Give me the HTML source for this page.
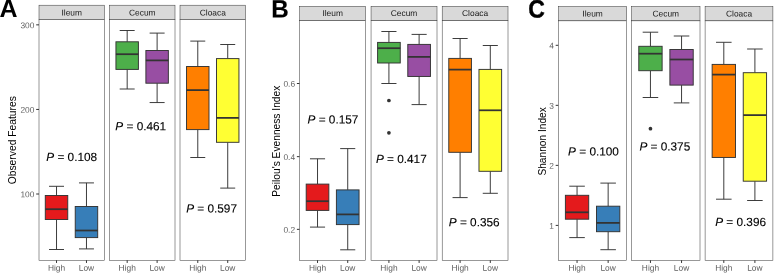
<!DOCTYPE html>
<html lang="en"><head><meta charset="utf-8"><title>Alpha diversity boxplots</title>
<style>html,body{margin:0;padding:0;background:#fff;}body{width:774px;height:273px;overflow:hidden;}svg{display:block;}text{font-family:'Liberation Sans', sans-serif;}</style></head><body>
<svg width="774" height="273" viewBox="0 0 774 273">
<rect x="0" y="0" width="774" height="273" fill="#ffffff"/>
<g>
<text transform="translate(-0.5,17.1) rotate(0.03) scale(1,1)" font-size="25.0" font-weight="bold" fill="#000" stroke="#000" stroke-width="0">A</text>
<text transform="translate(16.2,140.2) rotate(-90)" text-anchor="middle" font-size="10.3" fill="#000">Observed Features</text>
<line x1="36.2" x2="39" y1="24.85" y2="24.85" stroke="#333333" stroke-width="1.0"/>
<text transform="translate(34.4,28.15) rotate(0.03)" text-anchor="end" font-size="8.4" fill="#5e5e5e">300</text>
<line x1="36.2" x2="39" y1="109.45" y2="109.45" stroke="#333333" stroke-width="1.0"/>
<text transform="translate(34.4,112.75) rotate(0.03)" text-anchor="end" font-size="8.4" fill="#5e5e5e">200</text>
<line x1="36.2" x2="39" y1="194" y2="194" stroke="#333333" stroke-width="1.0"/>
<text transform="translate(34.4,197.3) rotate(0.03)" text-anchor="end" font-size="8.4" fill="#5e5e5e">100</text>
<rect x="39" y="5.2" width="65.4" height="14.4" fill="#D9D9D9" stroke="#333333" stroke-width="0.5"/>
<text transform="translate(71.7,15.4) rotate(0.03)" text-anchor="middle" font-size="8.4" fill="#1A1A1A">Ileum</text>
<rect x="39" y="19.6" width="65.4" height="240.65" fill="#fff" stroke="#333333" stroke-width="0.5"/>
<path d="M49.04 186.3H64.01M49.04 249.5H64.01M56.52 186.3V195.5M56.52 219.5V249.5" stroke="#333333" stroke-width="0.95" fill="none"/>
<rect x="45.29" y="195.5" width="22.46" height="24" fill="#E41A1C" stroke="#333333" stroke-width="0.95"/>
<line x1="45.29" x2="67.76" y1="209.2" y2="209.2" stroke="#333333" stroke-width="1.75"/>
<path d="M78.99 182.9H93.96M78.99 248.9H93.96M86.47 182.9V206.5M86.47 237.6V248.9" stroke="#333333" stroke-width="0.95" fill="none"/>
<rect x="75.24" y="206.5" width="22.46" height="31.1" fill="#377EB8" stroke="#333333" stroke-width="0.95"/>
<line x1="75.24" x2="97.71" y1="230.5" y2="230.5" stroke="#333333" stroke-width="1.75"/>
<text transform="translate(71.7,161) rotate(0.03)" text-anchor="middle" font-size="11.8" fill="#000" stroke="#000" stroke-width="0.12"><tspan font-style="italic">P</tspan> = 0.108</text>
<line x1="56.52" x2="56.52" y1="260.25" y2="262.95" stroke="#333333" stroke-width="1.0"/>
<text transform="translate(56.52,270.8) rotate(0.03)" text-anchor="middle" font-size="8.4" fill="#5e5e5e">High</text>
<line x1="86.47" x2="86.47" y1="260.25" y2="262.95" stroke="#333333" stroke-width="1.0"/>
<text transform="translate(86.47,270.8) rotate(0.03)" text-anchor="middle" font-size="8.4" fill="#5e5e5e">Low</text>
<rect x="109.5" y="5.2" width="65.5" height="14.4" fill="#D9D9D9" stroke="#333333" stroke-width="0.5"/>
<text transform="translate(142.25,15.4) rotate(0.03)" text-anchor="middle" font-size="8.4" fill="#1A1A1A">Cecum</text>
<rect x="109.5" y="19.6" width="65.5" height="240.65" fill="#fff" stroke="#333333" stroke-width="0.5"/>
<path d="M119.69 30.5H134.66M119.69 89H134.66M127.18 30.5V41.8M127.18 69.4V89" stroke="#333333" stroke-width="0.95" fill="none"/>
<rect x="115.94" y="41.8" width="22.46" height="27.6" fill="#4DAF4A" stroke="#333333" stroke-width="0.95"/>
<line x1="115.94" x2="138.41" y1="54.2" y2="54.2" stroke="#333333" stroke-width="1.75"/>
<path d="M149.64 33.1H164.61M149.64 102.55H164.61M157.12 33.1V50.5M157.12 83.2V102.55" stroke="#333333" stroke-width="0.95" fill="none"/>
<rect x="145.89" y="50.5" width="22.46" height="32.7" fill="#984EA3" stroke="#333333" stroke-width="0.95"/>
<line x1="145.89" x2="168.36" y1="60.4" y2="60.4" stroke="#333333" stroke-width="1.75"/>
<text transform="translate(140.75,130.2) rotate(0.03)" text-anchor="middle" font-size="11.8" fill="#000" stroke="#000" stroke-width="0.12"><tspan font-style="italic">P</tspan> = 0.461</text>
<line x1="127.18" x2="127.18" y1="260.25" y2="262.95" stroke="#333333" stroke-width="1.0"/>
<text transform="translate(127.18,270.8) rotate(0.03)" text-anchor="middle" font-size="8.4" fill="#5e5e5e">High</text>
<line x1="157.12" x2="157.12" y1="260.25" y2="262.95" stroke="#333333" stroke-width="1.0"/>
<text transform="translate(157.12,270.8) rotate(0.03)" text-anchor="middle" font-size="8.4" fill="#5e5e5e">Low</text>
<rect x="180" y="5.2" width="65.5" height="14.4" fill="#D9D9D9" stroke="#333333" stroke-width="0.5"/>
<text transform="translate(212.75,15.4) rotate(0.03)" text-anchor="middle" font-size="8.4" fill="#1A1A1A">Cloaca</text>
<rect x="180" y="19.6" width="65.5" height="240.65" fill="#fff" stroke="#333333" stroke-width="0.5"/>
<path d="M190.29 41.1H205.26M190.29 157.5H205.26M197.78 41.1V66.5M197.78 129.6V157.5" stroke="#333333" stroke-width="0.95" fill="none"/>
<rect x="186.54" y="66.5" width="22.46" height="63.1" fill="#FF7F00" stroke="#333333" stroke-width="0.95"/>
<line x1="186.54" x2="209.01" y1="90.1" y2="90.1" stroke="#333333" stroke-width="1.75"/>
<path d="M220.24 44.5H235.21M220.24 188.1H235.21M227.72 44.5V58.6M227.72 142.3V188.1" stroke="#333333" stroke-width="0.95" fill="none"/>
<rect x="216.49" y="58.6" width="22.46" height="83.7" fill="#FFFF33" stroke="#333333" stroke-width="0.95"/>
<line x1="216.49" x2="238.96" y1="117.9" y2="117.9" stroke="#333333" stroke-width="1.75"/>
<text transform="translate(211.55,212.5) rotate(0.03)" text-anchor="middle" font-size="11.8" fill="#000" stroke="#000" stroke-width="0.12"><tspan font-style="italic">P</tspan> = 0.597</text>
<line x1="197.78" x2="197.78" y1="260.25" y2="262.95" stroke="#333333" stroke-width="1.0"/>
<text transform="translate(197.78,270.8) rotate(0.03)" text-anchor="middle" font-size="8.4" fill="#5e5e5e">High</text>
<line x1="227.72" x2="227.72" y1="260.25" y2="262.95" stroke="#333333" stroke-width="1.0"/>
<text transform="translate(227.72,270.8) rotate(0.03)" text-anchor="middle" font-size="8.4" fill="#5e5e5e">Low</text>
</g>
<g>
<text transform="translate(271.2,17.4) rotate(0.03) scale(0.97,1)" font-size="25.0" font-weight="bold" fill="#000" stroke="#000" stroke-width="0.15">B</text>
<text transform="translate(279.8,141.2) rotate(-90)" text-anchor="middle" font-size="10.23" fill="#000">Peilou&#39;s Evenness Index</text>
<line x1="296.9" x2="299.7" y1="83.5" y2="83.5" stroke="#333333" stroke-width="1.0"/>
<text transform="translate(295.1,86.8) rotate(0.03)" text-anchor="end" font-size="8.4" fill="#5e5e5e">0.6</text>
<line x1="296.9" x2="299.7" y1="156.65" y2="156.65" stroke="#333333" stroke-width="1.0"/>
<text transform="translate(295.1,159.95) rotate(0.03)" text-anchor="end" font-size="8.4" fill="#5e5e5e">0.4</text>
<line x1="296.9" x2="299.7" y1="229.35" y2="229.35" stroke="#333333" stroke-width="1.0"/>
<text transform="translate(295.1,232.65) rotate(0.03)" text-anchor="end" font-size="8.4" fill="#5e5e5e">0.2</text>
<rect x="299.7" y="6.3" width="65.85" height="14.4" fill="#D9D9D9" stroke="#333333" stroke-width="0.5"/>
<text transform="translate(332.62,16) rotate(0.03)" text-anchor="middle" font-size="8.4" fill="#1A1A1A">Ileum</text>
<rect x="299.7" y="20.7" width="65.85" height="239.55" fill="#fff" stroke="#333333" stroke-width="0.5"/>
<path d="M309.97 158.8H325.07M309.97 227.1H325.07M317.52 158.8V184.1M317.52 210.4V227.1" stroke="#333333" stroke-width="0.95" fill="none"/>
<rect x="306.2" y="184.1" width="22.65" height="26.3" fill="#E41A1C" stroke="#333333" stroke-width="0.95"/>
<line x1="306.2" x2="328.85" y1="201.2" y2="201.2" stroke="#333333" stroke-width="1.75"/>
<path d="M340.18 148.6H355.28M340.18 249.8H355.28M347.73 148.6V189.9M347.73 224.6V249.8" stroke="#333333" stroke-width="0.95" fill="none"/>
<rect x="336.4" y="189.9" width="22.65" height="34.7" fill="#377EB8" stroke="#333333" stroke-width="0.95"/>
<line x1="336.4" x2="359.05" y1="214.4" y2="214.4" stroke="#333333" stroke-width="1.75"/>
<text transform="translate(332.93,123.6) rotate(0.03)" text-anchor="middle" font-size="11.8" fill="#000" stroke="#000" stroke-width="0.12"><tspan font-style="italic">P</tspan> = 0.157</text>
<line x1="317.52" x2="317.52" y1="260.25" y2="262.95" stroke="#333333" stroke-width="1.0"/>
<text transform="translate(317.52,270.8) rotate(0.03)" text-anchor="middle" font-size="8.4" fill="#5e5e5e">High</text>
<line x1="347.73" x2="347.73" y1="260.25" y2="262.95" stroke="#333333" stroke-width="1.0"/>
<text transform="translate(347.73,270.8) rotate(0.03)" text-anchor="middle" font-size="8.4" fill="#5e5e5e">Low</text>
<rect x="371.05" y="6.3" width="65.95" height="14.4" fill="#D9D9D9" stroke="#333333" stroke-width="0.5"/>
<text transform="translate(404.02,16) rotate(0.03)" text-anchor="middle" font-size="8.4" fill="#1A1A1A">Cecum</text>
<rect x="371.05" y="20.7" width="65.95" height="239.55" fill="#fff" stroke="#333333" stroke-width="0.5"/>
<path d="M381.37 31.5H396.47M381.37 83.5H396.47M388.92 31.5V42.4M388.92 63V83.5" stroke="#333333" stroke-width="0.95" fill="none"/>
<rect x="377.6" y="42.4" width="22.65" height="20.6" fill="#4DAF4A" stroke="#333333" stroke-width="0.95"/>
<line x1="377.6" x2="400.25" y1="48.2" y2="48.2" stroke="#333333" stroke-width="1.75"/>
<path d="M411.57 34.4H426.68M411.57 104.6H426.68M419.12 34.4V44.4M419.12 76.45V104.6" stroke="#333333" stroke-width="0.95" fill="none"/>
<rect x="407.8" y="44.4" width="22.65" height="32.05" fill="#984EA3" stroke="#333333" stroke-width="0.95"/>
<line x1="407.8" x2="430.45" y1="56.9" y2="56.9" stroke="#333333" stroke-width="1.75"/>
<circle cx="388.92" cy="100.5" r="1.85" fill="#333"/>
<circle cx="388.92" cy="132.8" r="1.85" fill="#333"/>
<text transform="translate(401.32,163) rotate(0.03)" text-anchor="middle" font-size="11.8" fill="#000" stroke="#000" stroke-width="0.12"><tspan font-style="italic">P</tspan> = 0.417</text>
<line x1="388.92" x2="388.92" y1="260.25" y2="262.95" stroke="#333333" stroke-width="1.0"/>
<text transform="translate(388.92,270.8) rotate(0.03)" text-anchor="middle" font-size="8.4" fill="#5e5e5e">High</text>
<line x1="419.12" x2="419.12" y1="260.25" y2="262.95" stroke="#333333" stroke-width="1.0"/>
<text transform="translate(419.12,270.8) rotate(0.03)" text-anchor="middle" font-size="8.4" fill="#5e5e5e">Low</text>
<rect x="442.2" y="6.3" width="65.8" height="14.4" fill="#D9D9D9" stroke="#333333" stroke-width="0.5"/>
<text transform="translate(475.1,16) rotate(0.03)" text-anchor="middle" font-size="8.4" fill="#1A1A1A">Cloaca</text>
<rect x="442.2" y="20.7" width="65.8" height="239.55" fill="#fff" stroke="#333333" stroke-width="0.5"/>
<path d="M452.55 38.5H467.65M452.55 197.6H467.65M460.1 38.5V58.4M460.1 152.3V197.6" stroke="#333333" stroke-width="0.95" fill="none"/>
<rect x="448.78" y="58.4" width="22.65" height="93.9" fill="#FF7F00" stroke="#333333" stroke-width="0.95"/>
<line x1="448.78" x2="471.43" y1="69.6" y2="69.6" stroke="#333333" stroke-width="1.75"/>
<path d="M482.75 45.5H497.85M482.75 193.3H497.85M490.3 45.5V69.4M490.3 171.3V193.3" stroke="#333333" stroke-width="0.95" fill="none"/>
<rect x="478.98" y="69.4" width="22.65" height="101.9" fill="#FFFF33" stroke="#333333" stroke-width="0.95"/>
<line x1="478.98" x2="501.63" y1="110.3" y2="110.3" stroke="#333333" stroke-width="1.75"/>
<text transform="translate(474.2,226.2) rotate(0.03)" text-anchor="middle" font-size="11.8" fill="#000" stroke="#000" stroke-width="0.12"><tspan font-style="italic">P</tspan> = 0.356</text>
<line x1="460.1" x2="460.1" y1="260.25" y2="262.95" stroke="#333333" stroke-width="1.0"/>
<text transform="translate(460.1,270.8) rotate(0.03)" text-anchor="middle" font-size="8.4" fill="#5e5e5e">High</text>
<line x1="490.3" x2="490.3" y1="260.25" y2="262.95" stroke="#333333" stroke-width="1.0"/>
<text transform="translate(490.3,270.8) rotate(0.03)" text-anchor="middle" font-size="8.4" fill="#5e5e5e">Low</text>
</g>
<g>
<text transform="translate(528.3,17.5) rotate(0.03) scale(0.92,1)" font-size="25.0" font-weight="bold" fill="#000" stroke="#000" stroke-width="0.4">C</text>
<text transform="translate(545.6,141.4) rotate(-90)" text-anchor="middle" font-size="10.16" fill="#000">Shannon Index</text>
<line x1="555.7" x2="558.5" y1="45.3" y2="45.3" stroke="#333333" stroke-width="1.0"/>
<text transform="translate(553.9,48.6) rotate(0.03)" text-anchor="end" font-size="8.4" fill="#5e5e5e">4</text>
<line x1="555.7" x2="558.5" y1="105.33" y2="105.33" stroke="#333333" stroke-width="1.0"/>
<text transform="translate(553.9,108.63) rotate(0.03)" text-anchor="end" font-size="8.4" fill="#5e5e5e">3</text>
<line x1="555.7" x2="558.5" y1="165.37" y2="165.37" stroke="#333333" stroke-width="1.0"/>
<text transform="translate(553.9,168.67) rotate(0.03)" text-anchor="end" font-size="8.4" fill="#5e5e5e">2</text>
<line x1="555.7" x2="558.5" y1="225.4" y2="225.4" stroke="#333333" stroke-width="1.0"/>
<text transform="translate(553.9,228.7) rotate(0.03)" text-anchor="end" font-size="8.4" fill="#5e5e5e">1</text>
<rect x="558.5" y="6.5" width="68.2" height="14.35" fill="#D9D9D9" stroke="#333333" stroke-width="0.5"/>
<text transform="translate(592.6,16.43) rotate(0.03)" text-anchor="middle" font-size="8.4" fill="#1A1A1A">Ileum</text>
<rect x="558.5" y="20.85" width="68.2" height="239.4" fill="#fff" stroke="#333333" stroke-width="0.5"/>
<path d="M569.28 186.2H584.83M569.28 237.6H584.83M577.05 186.2V195.3M577.05 219.2V237.6" stroke="#333333" stroke-width="0.95" fill="none"/>
<rect x="565.39" y="195.3" width="23.33" height="23.9" fill="#E41A1C" stroke="#333333" stroke-width="0.95"/>
<line x1="565.39" x2="588.71" y1="212.3" y2="212.3" stroke="#333333" stroke-width="1.75"/>
<path d="M600.38 183.1H615.92M600.38 249.7H615.92M608.15 183.1V206.2M608.15 231.7V249.7" stroke="#333333" stroke-width="0.95" fill="none"/>
<rect x="596.49" y="206.2" width="23.33" height="25.5" fill="#377EB8" stroke="#333333" stroke-width="0.95"/>
<line x1="596.49" x2="619.81" y1="222.9" y2="222.9" stroke="#333333" stroke-width="1.75"/>
<text transform="translate(593.5,155.4) rotate(0.03)" text-anchor="middle" font-size="11.8" fill="#000" stroke="#000" stroke-width="0.12"><tspan font-style="italic">P</tspan> = 0.100</text>
<line x1="577.05" x2="577.05" y1="260.25" y2="262.95" stroke="#333333" stroke-width="1.0"/>
<text transform="translate(577.05,270.8) rotate(0.03)" text-anchor="middle" font-size="8.4" fill="#5e5e5e">High</text>
<line x1="608.15" x2="608.15" y1="260.25" y2="262.95" stroke="#333333" stroke-width="1.0"/>
<text transform="translate(608.15,270.8) rotate(0.03)" text-anchor="middle" font-size="8.4" fill="#5e5e5e">Low</text>
<rect x="631.6" y="6.5" width="68.4" height="14.35" fill="#D9D9D9" stroke="#333333" stroke-width="0.5"/>
<text transform="translate(665.8,16.43) rotate(0.03)" text-anchor="middle" font-size="8.4" fill="#1A1A1A">Cecum</text>
<rect x="631.6" y="20.85" width="68.4" height="239.4" fill="#fff" stroke="#333333" stroke-width="0.5"/>
<path d="M642.68 32.2H658.23M642.68 97.5H658.23M650.45 32.2V46.3M650.45 70.7V97.5" stroke="#333333" stroke-width="0.95" fill="none"/>
<rect x="638.79" y="46.3" width="23.33" height="24.4" fill="#4DAF4A" stroke="#333333" stroke-width="0.95"/>
<line x1="638.79" x2="662.11" y1="53.7" y2="53.7" stroke="#333333" stroke-width="1.75"/>
<path d="M673.77 36H689.32M673.77 102.9H689.32M681.55 36V49.5M681.55 85.1V102.9" stroke="#333333" stroke-width="0.95" fill="none"/>
<rect x="669.89" y="49.5" width="23.33" height="35.6" fill="#984EA3" stroke="#333333" stroke-width="0.95"/>
<line x1="669.89" x2="693.21" y1="59.5" y2="59.5" stroke="#333333" stroke-width="1.75"/>
<circle cx="650.45" cy="128.7" r="1.85" fill="#333"/>
<text transform="translate(664.8,150.4) rotate(0.03)" text-anchor="middle" font-size="11.8" fill="#000" stroke="#000" stroke-width="0.12"><tspan font-style="italic">P</tspan> = 0.375</text>
<line x1="650.45" x2="650.45" y1="260.25" y2="262.95" stroke="#333333" stroke-width="1.0"/>
<text transform="translate(650.45,270.8) rotate(0.03)" text-anchor="middle" font-size="8.4" fill="#5e5e5e">High</text>
<line x1="681.55" x2="681.55" y1="260.25" y2="262.95" stroke="#333333" stroke-width="1.0"/>
<text transform="translate(681.55,270.8) rotate(0.03)" text-anchor="middle" font-size="8.4" fill="#5e5e5e">Low</text>
<rect x="705.1" y="6.5" width="67.8" height="14.35" fill="#D9D9D9" stroke="#333333" stroke-width="0.5"/>
<text transform="translate(739,16.43) rotate(0.03)" text-anchor="middle" font-size="8.4" fill="#1A1A1A">Cloaca</text>
<rect x="705.1" y="20.85" width="67.8" height="239.4" fill="#fff" stroke="#333333" stroke-width="0.5"/>
<path d="M716.03 42.3H731.58M716.03 199.2H731.58M723.8 42.3V64.4M723.8 157.45V199.2" stroke="#333333" stroke-width="0.95" fill="none"/>
<rect x="712.14" y="64.4" width="23.33" height="93.05" fill="#FF7F00" stroke="#333333" stroke-width="0.95"/>
<line x1="712.14" x2="735.46" y1="74.6" y2="74.6" stroke="#333333" stroke-width="1.75"/>
<path d="M747.12 49H762.67M747.12 200.5H762.67M754.9 49V72.7M754.9 181.2V200.5" stroke="#333333" stroke-width="0.95" fill="none"/>
<rect x="743.24" y="72.7" width="23.33" height="108.5" fill="#FFFF33" stroke="#333333" stroke-width="0.95"/>
<line x1="743.24" x2="766.56" y1="115.1" y2="115.1" stroke="#333333" stroke-width="1.75"/>
<text transform="translate(740.6,226) rotate(0.03)" text-anchor="middle" font-size="11.8" fill="#000" stroke="#000" stroke-width="0.12"><tspan font-style="italic">P</tspan> = 0.396</text>
<line x1="723.8" x2="723.8" y1="260.25" y2="262.95" stroke="#333333" stroke-width="1.0"/>
<text transform="translate(723.8,270.8) rotate(0.03)" text-anchor="middle" font-size="8.4" fill="#5e5e5e">High</text>
<line x1="754.9" x2="754.9" y1="260.25" y2="262.95" stroke="#333333" stroke-width="1.0"/>
<text transform="translate(754.9,270.8) rotate(0.03)" text-anchor="middle" font-size="8.4" fill="#5e5e5e">Low</text>
</g>
</svg></body></html>
